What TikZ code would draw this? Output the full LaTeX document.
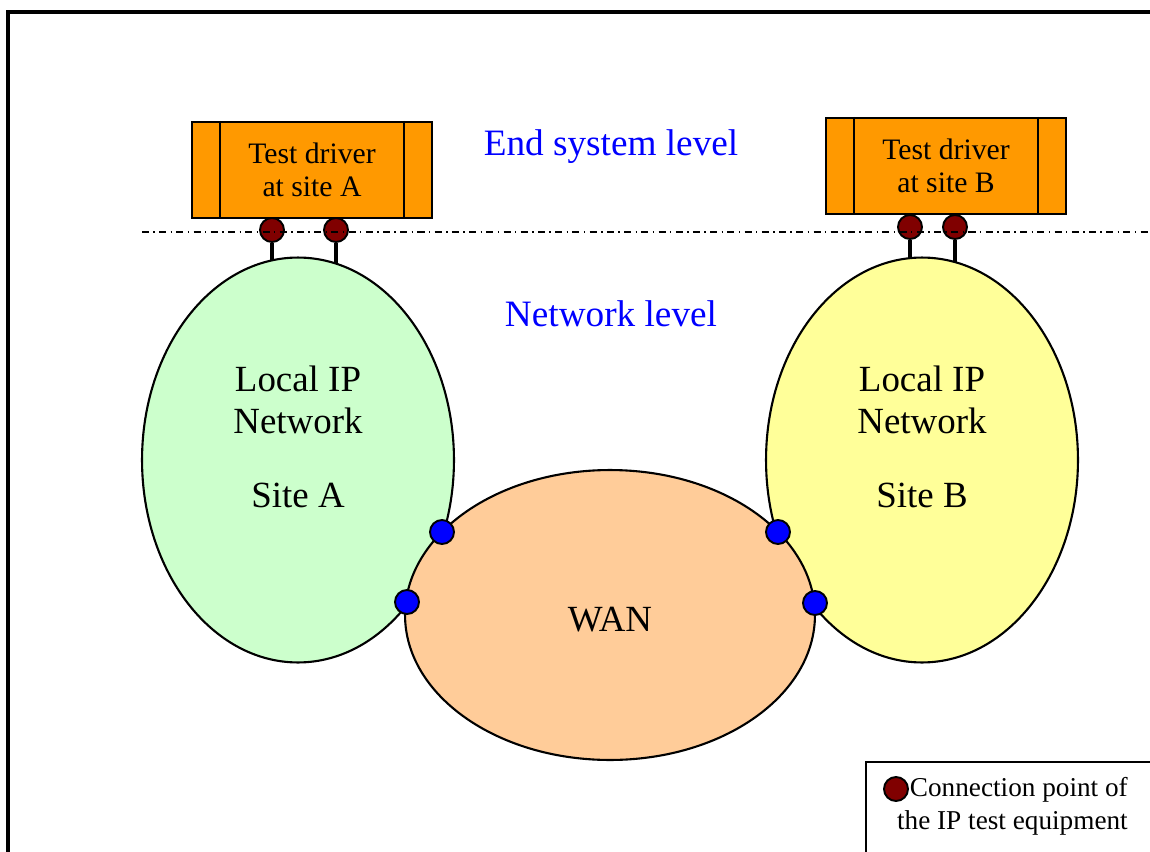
\documentclass[tikz,border=0pt]{standalone}
\usepackage{fontspec}
\setmainfont{Liberation Serif}
\usetikzlibrary{shapes.geometric,positioning}

\definecolor{drvorange}{HTML}{FF9900}
\definecolor{lanA}{HTML}{CCFFCC}
\definecolor{lanB}{HTML}{FFFF99}
\definecolor{wanfill}{HTML}{FFCC99}
\definecolor{cpred}{HTML}{800000}

\tikzset{
  driver/.style={draw, line width=1.2pt, fill=drvorange, minimum width=4.8cm,
    minimum height=1.92cm, align=center, font=\fontsize{16.9}{18.5}\selectfont},
  lan/.style={draw, line width=1.2pt, ellipse, minimum width=6.24cm, minimum height=8.1cm},
  cpoint/.style={draw, line width=1.1pt, circle, fill=cpred, minimum size=0.48cm, inner sep=0pt},
  wanpoint/.style={draw, line width=1.1pt, circle, fill=blue, minimum size=0.48cm, inner sep=0pt},
  bigtext/.style={align=center, font=\fontsize{21}{24}\selectfont},
  leveltext/.style={text=blue, font=\fontsize{21.2}{24}\selectfont},
  stem/.style={line width=2.2pt}
}

\begin{document}
\begin{tikzpicture}[x=0.02cm,y=-0.02cm]
\useasboundingbox (0,0) rectangle (1150,852);

% frame
\draw [line width=1.8pt] (8,852) -- (8,12) -- (1150,12);

% connection points of the test drivers
\node [cpoint] (cpA1) at (272,230) {};
\node [cpoint] (cpA2) at (336,230) {};
\node [cpoint] (cpB1) at (910,227) {};
\node [cpoint] (cpB2) at (955,227) {};
\coordinate (stA1) at (272,290);
\coordinate (stA2) at (336,290);
\coordinate (stB1) at (910,290);
\coordinate (stB2) at (955,290);
\draw [stem] (cpA1) -- (stA1);
\draw [stem] (cpA2) -- (stA2);
\draw [stem] (cpB1) -- (stB1);
\draw [stem] (cpB2) -- (stB2);

% local networks and WAN
\node [lan, fill=lanA] (lanA) at (298,460) {};
\node [lan, fill=lanB] (lanB) at (922,460) {};
\node [draw, line width=1.2pt, ellipse, fill=wanfill, minimum width=8.2cm,
       minimum height=5.8cm] (wan) at (610,615) {};

\node [bigtext] (lanAtext) at (298,400) {Local IP\\Network};
\node [bigtext] (siteA) at (298,495) {Site A};
\node [bigtext] (lanBtext) at (922,400) {Local IP\\Network};
\node [bigtext] (siteB) at (922,495) {Site B};
\node [bigtext] (wantext) at (610,620) {WAN};

\node [wanpoint] (wpA1) at (442,532) {};
\node [wanpoint] (wpA2) at (407,602) {};
\node [wanpoint] (wpB1) at (778,532) {};
\node [wanpoint] (wpB2) at (815,603) {};

% test drivers
\node [driver] (drvA) at (312,170) {Test driver\\at site A};
\node [driver] (drvB) at (946,166) {Test driver\\at site B};
\draw [line width=1.2pt] ([xshift=0.58cm]drvA.north west) -- ([xshift=0.58cm]drvA.south west);
\draw [line width=1.2pt] ([xshift=-0.58cm]drvA.north east) -- ([xshift=-0.58cm]drvA.south east);
\draw [line width=1.2pt] ([xshift=0.58cm]drvB.north west) -- ([xshift=0.58cm]drvB.south west);
\draw [line width=1.2pt] ([xshift=-0.58cm]drvB.north east) -- ([xshift=-0.58cm]drvB.south east);

% level border
\coordinate (lvlL) at (142,232);
\coordinate (lvlR) at (1150,232);
\draw [line width=1.1pt, dash pattern=on 4pt off 2.5pt on 0.8pt off 2.5pt] (lvlL) -- (lvlR);

\node [leveltext] (endlvl) at (611,147) {End system level};
\node [leveltext] (netlvl) at (611,314) {Network level};

% legend
\draw [line width=1.2pt] (866,852) -- (866,762) -- (1150,762);
\node [cpoint] (legdot) at (896,789) {};
\node [align=right, anchor=east, font=\fontsize{15.5}{18.8}\selectfont] (legtext)
      at (1134,806) {Connection point of\\the IP test equipment};
\end{tikzpicture}
\end{document}
